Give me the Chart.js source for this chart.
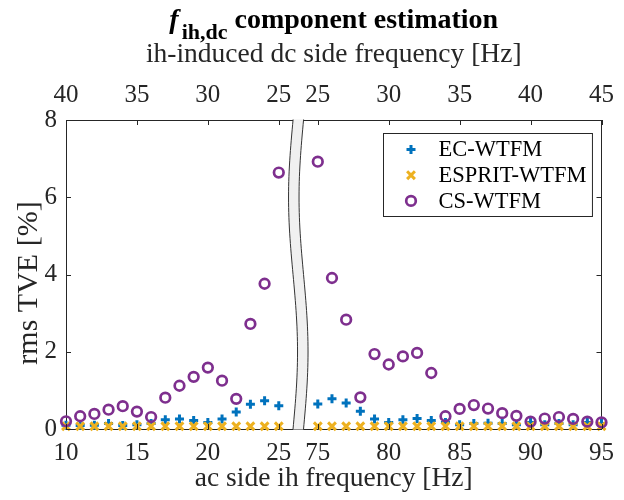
<!DOCTYPE html>
<html>
<head>
<meta charset="utf-8">
<script src="https://cdn.jsdelivr.net/npm/chart.js@4.4.0/dist/chart.umd.min.js"></script>
<style>
body { margin: 0; background: #fff; }
</style>
</head>
<body>
<canvas id="myChart" width="624" height="500"></canvas>
<script>
// ac side ih frequency [Hz], axis is broken between 25 and 75
var acFreq = [10, 11, 12, 13, 14, 15, 16, 17, 18, 19, 20, 21, 22, 23, 24, 25,
              75, 76, 77, 78, 79, 80, 81, 82, 83, 84, 85, 86, 87, 88, 89, 90, 91, 92, 93, 94, 95];

var ecWtfm = [0.10, 0.09, 0.10, 0.14, 0.09, 0.11, 0.14, 0.24, 0.26, 0.22, 0.17, 0.26, 0.44, 0.64, 0.73, 0.60,
              0.65, 0.78, 0.67, 0.46, 0.26, 0.17, 0.24, 0.27, 0.22, 0.17, 0.11, 0.14, 0.15, 0.14, 0.11, 0.17, 0.11, 0.14, 0.11, 0.17, 0.14];
var espritWtfm = [0.07, 0.07, 0.07, 0.07, 0.07, 0.07, 0.07, 0.07, 0.07, 0.07, 0.07, 0.07, 0.07, 0.07, 0.07, 0.07,
                  0.07, 0.07, 0.07, 0.07, 0.07, 0.07, 0.07, 0.07, 0.07, 0.07, 0.07, 0.07, 0.07, 0.07, 0.07, 0.07, 0.07, 0.07, 0.07, 0.07, 0.07];
var csWtfm = [0.20, 0.33, 0.39, 0.50, 0.59, 0.45, 0.31, 0.81, 1.12, 1.35, 1.59, 1.25, 0.78, 2.72, 3.76, 6.64,
              6.92, 3.91, 2.83, 0.82, 1.94, 1.67, 1.88, 1.97, 1.45, 0.33, 0.52, 0.62, 0.53, 0.41, 0.34, 0.19, 0.27, 0.31, 0.26, 0.19, 0.17];

var seriesNames = ['EC-WTFM', 'ESPRIT-WTFM', 'CS-WTFM'];
var tickFreqs = [10, 15, 20, 25, 75, 80, 85, 90, 95];
var bottomTickLabels = ['10', '15', '20', '25', '75', '80', '85', '90', '95'];
var topTickLabels = ['40', '35', '30', '25', '25', '30', '35', '40', '45'];

var titleVar = 'f';
var titleSub = 'ih,dc';
var titleRest = ' component estimation';
var yTitle = 'rms TVE [%]';

// right part of the axis is pulled left so the gap is small
var breakShift = 47.25;
function axisPos(f) { return f > 50 ? f - breakShift : f; }
function toPoints(values) {
    return acFreq.map(function (f, i) { return { x: axisPos(f), y: values[i] }; });
}

var serif = "'Liberation Serif', 'Times New Roman', serif";
var axisColor = '#262626';
Chart.defaults.font.family = serif;
Chart.defaults.color = axisColor;

function fixedWidth(w) { return function (scale) { scale.width = w; }; }
function fixedHeight(h) { return function (scale) { scale.height = h; }; }
function setTicks(scale) {
    scale.ticks = tickFreqs.map(function (f) { return { value: axisPos(f) }; });
}

function marker(ctx, ds, x, y) {
    ctx.save();
    ctx.strokeStyle = ds.pointBorderColor;
    ctx.fillStyle = 'rgba(0,0,0,0)';
    ctx.lineWidth = ds.pointBorderWidth;
    Chart.helpers.drawPoint(ctx, {
        pointStyle: ds.pointStyle, radius: ds.pointRadius,
        borderWidth: ds.pointBorderWidth, rotation: 0
    }, x, y);
    ctx.restore();
}

var decorPlugin = {
    id: 'decor',
    afterDraw: function (chart) {
        var ctx = chart.ctx;
        var a = chart.chartArea;
        var xs = chart.scales.x, ys = chart.scales.y;

        // inward ticks (box style)
        ctx.save();
        ctx.strokeStyle = axisColor;
        ctx.lineWidth = 1;
        ctx.beginPath();
        tickFreqs.forEach(function (f) {
            var px = Math.round(xs.getPixelForValue(axisPos(f))) + 0.5;
            ctx.moveTo(px, a.bottom); ctx.lineTo(px, a.bottom - 5);
            ctx.moveTo(px, a.top); ctx.lineTo(px, a.top + 5);
        });
        ys.ticks.forEach(function (t) {
            var py = Math.round(ys.getPixelForValue(t.value)) + 0.5;
            ctx.moveTo(a.left, py); ctx.lineTo(a.left + 5, py);
            ctx.moveTo(a.right, py); ctx.lineTo(a.right - 5, py);
        });
        ctx.stroke();
        ctx.restore();

        // axis break band
        var cx = xs.getPixelForValue((25 + axisPos(75)) / 2);
        var h = a.bottom - a.top;
        var half = 5.25, amp = 4.5, n = 60;
        var left = [], right = [];
        for (var i = 0; i <= n; i++) {
            var y = a.top - 0.5 + (h + 1) * i / n;
            var off = -amp * Math.sin(2 * Math.PI * (y - a.top) / h);
            left.push([cx - half + off, y]);
            right.push([cx + half + off, y]);
        }
        ctx.save();
        ctx.beginPath();
        left.forEach(function (p, i) { if (i) ctx.lineTo(p[0], p[1]); else ctx.moveTo(p[0], p[1]); });
        for (var j = right.length - 1; j >= 0; j--) ctx.lineTo(right[j][0], right[j][1]);
        ctx.closePath();
        ctx.fillStyle = '#f0f0f0';
        ctx.fill();
        ctx.strokeStyle = '#333';
        ctx.lineWidth = 1;
        ctx.beginPath();
        left.forEach(function (p, i) { if (i) ctx.lineTo(p[0], p[1]); else ctx.moveTo(p[0], p[1]); });
        ctx.stroke();
        ctx.beginPath();
        right.forEach(function (p, i) { if (i) ctx.lineTo(p[0], p[1]); else ctx.moveTo(p[0], p[1]); });
        ctx.stroke();
        ctx.restore();

        // title with subscript
        ctx.save();
        ctx.fillStyle = '#000';
        ctx.textBaseline = 'alphabetic';
        ctx.textAlign = 'left';
        ctx.font = 'italic bold 28px ' + serif;
        var w1 = ctx.measureText(titleVar).width;
        ctx.font = 'bold 22px ' + serif;
        var w2 = ctx.measureText(titleSub).width;
        ctx.font = 'bold 28px ' + serif;
        var w3 = ctx.measureText(titleRest).width;
        var tx = (a.left + a.right) / 2 - (w1 + 3 + w2 + w3) / 2;
        ctx.font = 'italic bold 28px ' + serif;
        ctx.fillText(titleVar, tx, 28);
        ctx.font = 'bold 22px ' + serif;
        ctx.fillText(titleSub, tx + w1 + 3, 39);
        ctx.font = 'bold 28px ' + serif;
        ctx.fillText(titleRest, tx + w1 + 3 + w2, 28);
        ctx.restore();

        // y axis label
        ctx.save();
        ctx.translate(37, 283);
        ctx.rotate(-Math.PI / 2);
        ctx.font = '30px ' + serif;
        ctx.fillStyle = axisColor;
        ctx.textAlign = 'center';
        ctx.textBaseline = 'alphabetic';
        ctx.fillText(yTitle, 0, 0);
        ctx.restore();

        // legend box inside the axes
        var dsets = chart.data.datasets;
        ctx.save();
        ctx.font = '22.5px ' + serif;
        var maxW = 0;
        dsets.forEach(function (d) { maxW = Math.max(maxW, ctx.measureText(d.label).width); });
        var bw = 55 + maxW + 6, bh = 83;
        var bx = Math.round(a.right - 10 - bw) + 0.5, by = Math.round(a.top + 13) + 0.5;
        ctx.fillStyle = '#fff';
        ctx.fillRect(bx, by, bw, bh);
        ctx.strokeStyle = axisColor;
        ctx.lineWidth = 1;
        ctx.strokeRect(bx, by, bw, bh);
        dsets.forEach(function (d, i) {
            var ry = by + 16 + i * 25.7;
            marker(ctx, d, bx + 27.5, ry);
            ctx.fillStyle = '#000';
            ctx.textBaseline = 'middle';
            ctx.textAlign = 'left';
            ctx.fillText(d.label, bx + 55, ry + 1);
        });
        ctx.restore();
    }
};

var ctx = document.getElementById('myChart').getContext('2d');
var myChart = new Chart(ctx, {
    type: 'scatter',
    data: {
        datasets: [
            {
                label: seriesNames[0],
                data: toPoints(ecWtfm),
                pointStyle: 'cross',
                pointRadius: 4.5,
                pointBorderWidth: 3,
                pointBorderColor: '#0072BD',
                pointBackgroundColor: 'rgba(0,0,0,0)',
                order: 3,
                clip: false
            },
            {
                label: seriesNames[1],
                data: toPoints(espritWtfm),
                pointStyle: 'crossRot',
                pointRadius: 5.5,
                pointBorderWidth: 3,
                pointBorderColor: '#EDB120',
                pointBackgroundColor: 'rgba(0,0,0,0)',
                order: 2,
                clip: false
            },
            {
                label: seriesNames[2],
                data: toPoints(csWtfm),
                pointStyle: 'circle',
                pointRadius: 4.8,
                pointBorderWidth: 2.7,
                pointBorderColor: '#7E2F8E',
                pointBackgroundColor: 'rgba(0,0,0,0)',
                order: 1,
                clip: false
            }
        ]
    },
    options: {
        responsive: false,
        animation: false,
        events: [],
        layout: { padding: 0 },
        plugins: {
            legend: { display: false },
            tooltip: { enabled: false },
            title: { display: false }
        },
        scales: {
            x: {
                type: 'linear',
                position: 'bottom',
                min: 10,
                max: axisPos(95),
                afterFit: fixedHeight(71),
                afterBuildTicks: setTicks,
                grid: { display: false, drawTicks: false },
                border: { display: true, color: axisColor, width: 1 },
                ticks: {
                    padding: 9,
                    maxRotation: 0,
                    autoSkip: false,
                    font: { size: 25 },
                    callback: function (value, index) { return bottomTickLabels[index]; }
                },
                title: {
                    display: true,
                    text: 'ac side ih frequency [Hz]',
                    font: { size: 27.5 },
                    padding: { top: 0, bottom: 5 }
                }
            },
            x2: {
                type: 'linear',
                position: 'top',
                min: 10,
                max: axisPos(95),
                afterFit: fixedHeight(120),
                afterBuildTicks: setTicks,
                grid: { display: false, drawTicks: false },
                border: { display: true, color: axisColor, width: 1 },
                ticks: {
                    padding: 10,
                    maxRotation: 0,
                    autoSkip: false,
                    font: { size: 25 },
                    callback: function (value, index) { return topTickLabels[index]; }
                },
                title: {
                    display: true,
                    text: 'ih-induced dc side frequency [Hz]',
                    font: { size: 27.5 },
                    padding: { top: 38, bottom: 0 }
                }
            },
            y: {
                position: 'left',
                min: 0,
                max: 8,
                afterFit: fixedWidth(66),
                grid: { display: false, drawTicks: false },
                border: { display: true, color: axisColor, width: 1 },
                ticks: { stepSize: 2, padding: 9, font: { size: 25 } },
                title: { display: false }
            },
            y2: {
                position: 'right',
                min: 0,
                max: 8,
                afterFit: fixedWidth(22),
                grid: { display: false, drawTicks: false },
                border: { display: true, color: axisColor, width: 1 },
                ticks: { display: false, stepSize: 2 }
            }
        }
    },
    plugins: [decorPlugin]
});
</script>
</body>
</html>
